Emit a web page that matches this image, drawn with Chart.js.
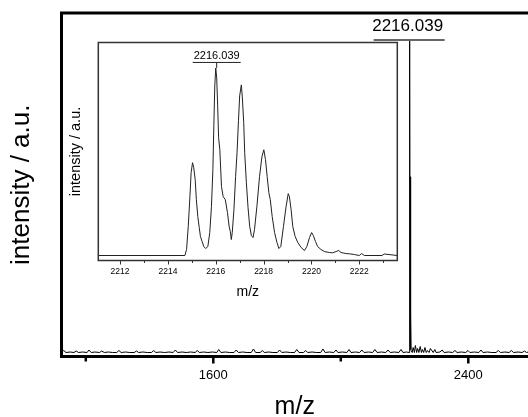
<!DOCTYPE html>
<html><head><meta charset="utf-8">
<script src="https://cdn.jsdelivr.net/npm/chart.js@4.4.1/dist/chart.umd.min.js"></script>
<style>
html,body{margin:0;padding:0;background:#fff;overflow:hidden;}
#wrap{position:relative;width:528px;height:417px;}
#main{position:absolute;left:0;top:0;}
#inset{position:absolute;left:60px;top:30px;}
</style></head><body>
<div id="wrap"><canvas id="main" width="528" height="417"></canvas><canvas id="inset" width="345" height="270"></canvas></div>
<script>
// ---------- main spectrum ----------
const mainMz = [
 1124, 1131, 1138, 1151, 1163, 1170, 1177, 1190, 1204, 1210,
 1217, 1229, 1243, 1250, 1258, 1271, 1284, 1297, 1304, 1311,
 1325, 1338, 1352, 1359, 1366, 1379, 1393, 1406, 1413, 1420,
 1433, 1447, 1461, 1474, 1481, 1488, 1502, 1515, 1529, 1543,
 1550, 1556, 1570, 1583, 1597, 1611, 1617, 1624, 1638, 1651,
 1665, 1672, 1679, 1692, 1706, 1719, 1726, 1733, 1747, 1754,
 1760, 1774, 1787, 1801, 1808, 1815, 1828, 1842, 1855, 1862,
 1869, 1883, 1890, 1896, 1910, 1923, 1937, 1944, 1951, 1964,
 1978, 1985, 1991, 2005, 2019, 2026, 2032, 2046, 2059, 2066,
 2073, 2087, 2100, 2107, 2114, 2127, 2141, 2148, 2155, 2168,
 2182, 2189, 2195, 2206,
 2214.7, 2215.0, 2215.5, 2216.0, 2216.6, 2217.1, 2217.5, 2218.0, 2218.6, 2219.0,
 2219.6, 2220.0, 2220.6,
 2224, 2227, 2231, 2234, 2238, 2241, 2245, 2249, 2253, 2256,
 2260, 2264, 2268, 2272, 2277, 2281, 2290, 2295, 2299, 2311,
 2318, 2324, 2338, 2351, 2358, 2365, 2378, 2392, 2399, 2405,
 2419, 2433, 2440, 2446, 2460, 2474, 2487, 2494, 2501, 2515,
 2528, 2535, 2542, 2556, 2569, 2576, 2583, 2588
];
const mainIntensity = [
 0.5, 2, 0, 0.5, 0, 1.5, 0, 0.5, 0, 2.5,
 0, 0.5, 0, 1.5, 0, 0.5, 0, 0, 2, 0,
 0.5, 0, 0, 1.5, 0, 0.5, 0, 0, 2, 0,
 0.5, 0, 0.5, 0, 2.5, 0, 0.5, 0, 0.5, 0,
 2, 0, 0.5, 0, 0.5, 0, 3, 0, 0.5, 0,
 0, 2.5, 0, 0.5, 0, 0, 3.5, 0, 0, 2,
 0, 0.5, 0, 0, 2.5, 0, 0.5, 0, 0, 3,
 0, 0, 2, 0, 0.5, 0, 0, 3.5, 0, 0.5,
 0, 2.5, 0, 0.5, 0, 3, 0, 0.5, 0, 2.5,
 0, 0.5, 0, 3, 0, 0.5, 0, 2.5, 0, 0.5,
 0, 3, 0, 0.5,
 0, 152, 4, 312, 9, 283, 10, 176, 4, 105,
 3, 37, 2,
 0, 5, 0, 7, 0, 4, 0, 6, 0, 3,
 0, 5, 0, 2, 0, 4, 0, 3, 0, 0.5,
 2.5, 0, 0.5, 0, 2, 0, 0.5, 0, 2, 0,
 0.5, 0, 2.5, 0, 0.5, 0, 0, 2, 0, 0.5,
 0, 2, 0, 0.5, 0, 1.5, 0, 0.5
];
const mainTickValues = [1200, 1600, 2000, 2400];
const mainTickLabels = [1600, 2400];
const peakMz = 2216.039;
const peakLabel = '2216.039';

// ---------- inset (isotope pattern) ----------
const insetMz = [
 2211.09, 2214.71, 2214.78, 2214.85, 2214.92, 2214.97, 2215.03, 2215.08, 2215.14, 2215.19,
 2215.25, 2215.31, 2215.36, 2215.43, 2215.5, 2215.58, 2215.67, 2215.75, 2215.82, 2215.88,
 2215.92, 2215.96, 2216.0, 2216.04, 2216.08, 2216.12, 2216.17, 2216.24, 2216.31, 2216.4,
 2216.49, 2216.56, 2216.61, 2216.65, 2216.69, 2216.76, 2216.83, 2216.89, 2216.95, 2217.0,
 2217.07, 2217.11, 2217.17, 2217.21, 2217.28, 2217.35, 2217.42, 2217.49, 2217.56, 2217.62,
 2217.72, 2217.83, 2217.93, 2218.01, 2218.08, 2218.15, 2218.22, 2218.28, 2218.36, 2218.46,
 2218.56, 2218.64, 2218.72, 2218.83, 2218.94, 2219.03, 2219.08, 2219.15, 2219.22, 2219.32,
 2219.43, 2219.57, 2219.71, 2219.81, 2219.92, 2220.01, 2220.08, 2220.17, 2220.26, 2220.4,
 2220.54, 2220.75, 2220.89, 2221.03, 2221.14, 2221.24, 2221.44, 2221.58, 2221.79, 2222.0,
 2222.1, 2222.21, 2222.95, 2223.04, 2223.59
];
const insetIntensity = [
 0, 0, 6, 29, 59, 83, 93, 88, 76, 56,
 39, 28, 19, 14, 9, 7, 9, 23, 49, 86,
 130, 170, 188, 178, 150, 118, 106, 69, 59, 56,
 43, 29, 24, 16, 23, 46, 79, 103, 135, 160,
 171, 159, 133, 103, 73, 48, 29, 20, 18, 26,
 49, 79, 99, 106, 96, 79, 63, 56, 39, 23,
 13, 7, 9, 29, 49, 62, 59, 46, 29, 19,
 13, 8, 5, 9, 18, 23, 20, 14, 9, 6,
 4, 3, 2.7, 4, 5, 3, 2, 1.7, 1, 0,
 2, 0, 0, 1.5, 0
];
const insetTickValues = [2212, 2213, 2214, 2215, 2216, 2217, 2218, 2219, 2220, 2221, 2222, 2223];
const insetTickLabels = [2212, 2214, 2216, 2218, 2220, 2222];

const FONT = "'Liberation Sans', Arial, sans-serif";
Chart.defaults.font.family = FONT;
Chart.defaults.color = '#000';

const mainDecor = {
  id: 'mainDecor',
  afterDraw(chart) {
    const {ctx, chartArea: a, scales: {x, y}} = chart;
    ctx.save();
    ctx.strokeStyle = '#000';
    ctx.lineWidth = 3;
    ctx.beginPath();
    ctx.moveTo(a.right + 5, a.top); ctx.lineTo(a.left, a.top);
    ctx.lineTo(a.left, a.bottom); ctx.lineTo(a.right + 5, a.bottom);
    ctx.stroke();
    ctx.lineWidth = 2.5;
    mainTickValues.forEach(v => {
      const px = x.getPixelForValue(v);
      const len = mainTickLabels.includes(v) ? 7 : 5;
      ctx.beginPath(); ctx.moveTo(px, a.bottom); ctx.lineTo(px, a.bottom + len); ctx.stroke();
    });
    const px = x.getPixelForValue(peakMz);
    const py = y.getPixelForValue(Math.max(...mainIntensity));
    ctx.lineWidth = 1.5; ctx.strokeStyle = '#333';
    ctx.beginPath(); ctx.moveTo(px - 36, py - 1); ctx.lineTo(px + 35, py - 1); ctx.stroke();
    ctx.fillStyle = '#000';
    ctx.font = '17px ' + FONT;
    ctx.textAlign = 'center'; ctx.textBaseline = 'middle';
    ctx.fillText(peakLabel, px - 2, py - 14.5);
    ctx.restore();
  }
};

const insetDecor = {
  id: 'insetDecor',
  afterDraw(chart) {
    const {ctx, chartArea: a, scales: {x, y}} = chart;
    ctx.save();
    ctx.strokeStyle = '#333';
    ctx.lineWidth = 1.5;
    ctx.strokeRect(a.left, a.top, a.right - a.left, a.bottom - a.top);
    ctx.lineWidth = 1;
    insetTickValues.forEach(v => {
      const px = Math.round(x.getPixelForValue(v)) + 0.5;
      const len = insetTickLabels.includes(v) ? 4 : 2.5;
      ctx.beginPath(); ctx.moveTo(px, a.bottom); ctx.lineTo(px, a.bottom + len); ctx.stroke();
    });
    const px = x.getPixelForValue(peakMz);
    const py = y.getPixelForValue(Math.max(...insetIntensity));
    ctx.strokeStyle = '#222';
    ctx.beginPath(); ctx.moveTo(px - 24, py - 5.5); ctx.lineTo(px + 24, py - 5.5); ctx.stroke();
    ctx.beginPath(); ctx.moveTo(px, py - 5.5); ctx.lineTo(px, py); ctx.stroke();
    ctx.fillStyle = '#000';
    ctx.font = '11px ' + FONT;
    ctx.textAlign = 'center'; ctx.textBaseline = 'middle';
    ctx.fillText(peakLabel, px, py - 12);
    ctx.restore();
  }
};

new Chart(document.getElementById('main'), {
  type: 'line',
  data: { datasets: [{
    data: mainMz.map((m, i) => ({x: m, y: mainIntensity[i]})),
    borderColor: '#000', borderWidth: 1, pointRadius: 0, tension: 0
  }]},
  options: {
    responsive: false, animation: false, devicePixelRatio: 1,
    layout: { padding: { left: 0, right: 0, top: 13, bottom: 0 } },
    plugins: { legend: { display: false }, tooltip: { enabled: false } },
    scales: {
      x: {
        type: 'linear', min: 1123.8, max: 2587.3,
        afterBuildTicks: s => { s.ticks = mainTickValues.map(v => ({value: v})); },
        grid: { display: false, drawTicks: false }, border: { display: false },
        ticks: { padding: 10.7, font: { size: 13 }, color: '#000',
          callback: v => mainTickLabels.includes(v) ? String(v) : '' },
        title: { display: true, text: 'm/z', font: { size: 25, lineHeight: 0.8 }, padding: { top: 3.5, bottom: 0 }, color: '#000' }
      },
      y: {
        min: -4, max: 340,
        grid: { display: false, drawTicks: false }, border: { display: false },
        ticks: { display: false },
        title: { display: true, text: 'intensity / a.u.', font: { size: 26 }, padding: { top: 6.4, bottom: 23.9 }, color: '#000' }
      }
    }
  },
  plugins: [mainDecor]
});

new Chart(document.getElementById('inset'), {
  type: 'line',
  data: { datasets: [{
    data: insetMz.map((m, i) => ({x: m, y: insetIntensity[i]})),
    borderColor: '#222', borderWidth: 1, pointRadius: 0, tension: 0
  }]},
  options: {
    responsive: false, animation: false, devicePixelRatio: 1,
    layout: { padding: { left: 0, right: 7.7, top: 12.5, bottom: 0 } },
    plugins: { legend: { display: false }, tooltip: { enabled: false } },
    scales: {
      x: {
        type: 'linear', min: 2211.09, max: 2223.59,
        afterBuildTicks: s => { s.ticks = insetTickValues.map(v => ({value: v})); },
        grid: { display: false, drawTicks: false }, border: { display: false },
        ticks: { padding: 7.25, font: { size: 8.5, lineHeight: 1 }, color: '#000', maxRotation: 0, autoSkip: false,
          callback: v => insetTickLabels.includes(v) ? String(v) : '' },
        title: { display: true, text: 'm/z', font: { size: 14, lineHeight: 1 }, padding: { top: 1.5, bottom: 1 }, color: '#000' }
      },
      y: {
        min: -5, max: 213.5,
        grid: { display: false, drawTicks: false }, border: { display: false },
        ticks: { display: false },
        title: { display: true, text: 'intensity / a.u.', font: { size: 14.5 }, padding: { top: 7.3, bottom: 13.6 }, color: '#000' }
      }
    }
  },
  plugins: [insetDecor]
});
</script>
</body></html>
